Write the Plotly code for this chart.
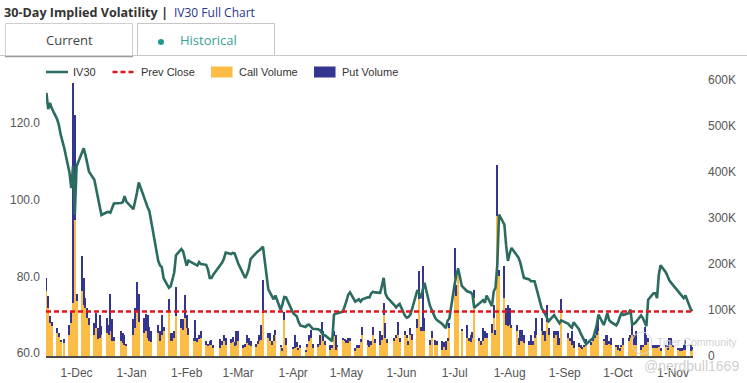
import plotly.graph_objects as go

# ---------------- data ----------------
month_days = [
    ("2023-11", [14, 15, 16, 17, 20, 21, 22, 24, 27, 28, 29, 30]),
    ("2023-12", [1, 4, 5, 6, 7, 8, 11, 12, 13, 14, 15, 18, 19, 20, 21, 22, 26, 27, 28, 29]),
    ("2024-01", [2, 3, 4, 5, 8, 9, 10, 11, 12, 16, 17, 18, 19, 22, 23, 24, 25, 26, 29, 30, 31]),
    ("2024-02", [1, 2, 5, 6, 7, 8, 9, 12, 13, 14, 15, 16, 20, 21, 22, 23, 26, 27, 28, 29]),
    ("2024-03", [1, 4, 5, 6, 7, 8, 11, 12, 13, 14, 15, 18, 19, 20, 21, 22, 25, 26, 27, 28]),
    ("2024-04", [1, 2, 3, 4, 5, 8, 9, 10, 11, 12, 15, 16, 17, 18, 19, 22, 23, 24, 25, 26, 29, 30]),
    ("2024-05", [1, 2, 3, 6, 7, 8, 9, 10, 13, 14, 15, 16, 17, 20, 21, 22, 23, 24, 28, 29, 30, 31]),
    ("2024-06", [3, 4, 5, 6, 7, 10, 11, 12, 13, 14, 17, 18, 20, 21, 24, 25, 26, 27, 28]),
    ("2024-07", [1, 2, 3, 5, 8, 9, 10, 11, 12, 15, 16, 17, 18, 19, 22, 23, 24, 25, 26, 29, 30, 31]),
    ("2024-08", [1, 2, 5, 6, 7, 8, 9, 12, 13, 14, 15, 16, 19, 20, 21, 22, 23, 26, 27, 28, 29, 30]),
    ("2024-09", [3, 4, 5, 6, 9, 10, 11, 12, 13, 16, 17, 18, 19, 20, 23, 24, 25, 26, 27, 30]),
    ("2024-10", [1, 2, 3, 4, 7, 8, 9, 10, 11, 14, 15, 16, 17, 18, 21, 22, 23, 24, 25, 28, 29, 30, 31]),
    ("2024-11", [1, 4, 5, 6, 7, 8, 11, 12]),
]
trade_dates = [f"{m}-{d:02d}" for m, ds in month_days for d in ds]

iv30 = [
    127.8, 123.6, 125.2, 123.8, 121.0, 119.5, 117.0, 113.5, 107.0, 103.0, 108.8, 96.1,
    108.7, 112.0, 113.4, 111.6, 109.4, 107.3, 105.2, 103.0, 100.2, 98.2, 96.0, 96.7, 96.8, 96.6, 97.8, 99.0, 99.1, 99.3, 100.9, 99.5,
    97.5, 99.5, 101.8, 104.5, 100.4, 99.0, 98.0, 97.0, 94.5, 84.0, 82.8, 82.4, 79.5, 77.0, 77.4, 79.5, 81.0, 85.5, 87.1, 86.5, 84.5,
    82.8, 84.1, 83.4, 83.1, 82.8, 83.7, 83.2, 83.0, 81.8, 79.6, 79.6, 80.4, 82.8, 83.6, 84.6, 86.2, 85.8, 86.1, 86.0, 84.7,
    83.4, 80.5, 79.6, 80.6, 82.0, 84.5, 86.2, 86.5, 86.8, 87.2, 87.7, 76.6, 75.6, 74.8, 74.0, 75.0, 71.2, 72.8, 74.6, 74.5,
    70.4, 70.0, 69.6, 68.2, 67.2, 66.8, 67.3, 67.4, 66.8, 66.3, 66.2, 66.0, 65.3, 64.8, 64.6, 63.5, 63.1, 70.0, 70.3, 70.4, 70.8, 72.0,
    73.5, 75.2, 75.8, 73.4, 73.6, 74.0, 73.4, 74.0, 74.5, 74.5, 75.6, 76.0, 75.8, 75.7, 77.5, 79.6, 75.5, 74.5, 72.5, 71.9, 72.4, 72.8,
    69.7, 69.2, 69.4, 70.0, 71.5, 76.4, 75.5, 74.3, 76.5, 78.3, 72.4, 71.2, 69.2, 68.6, 67.6, 67.0, 66.5, 68.4, 69.0,
    78.0, 80.6, 82.0, 77.5, 76.1, 76.0, 75.8, 75.3, 71.8, 73.0, 73.5, 73.8, 73.1, 75.0, 72.2, 76.1, 77.0, 83.0, 96.1, 93.5, 88.0, 84.0,
    86.0, 87.4, 85.5, 84.8, 83.5, 81.5, 79.6, 79.2, 78.7, 78.7, 78.7, 77.0, 71.7, 71.0, 70.2, 69.2, 68.3, 69.9, 69.3, 68.6, 67.8, 68.5,
    67.6, 67.0, 66.6, 68.0, 66.2, 65.1, 64.2, 63.2, 62.3, 63.5, 63.9, 65.5, 67.2, 70.0, 67.3, 68.8, 70.4, 68.6, 68.1, 67.2,
    68.0, 69.3, 70.4, 69.9, 70.4, 71.3, 67.4, 67.6, 68.0, 69.8, 69.1, 68.0, 67.0, 73.9, 75.6, 75.6, 74.3, 80.4, 82.9, 81.0, 79.8, 78.9, 78.3,
    77.7, 76.0, 75.2, 74.8, 74.3, 75.0, 71.4, 70.9,
]

# option volumes, thousands of contracts
call_volume_k = [
    141, 104, 72, 65, 50, 41, 32, 28, 46, 72, 115, 296,
    120, 141, 111, 104, 83, 68, 46, 61, 36, 39, 45, 50, 46, 54, 32, 32, 32, 28, 25, 21,
    46, 61, 97, 75, 50, 55, 39, 32, 30, 50, 32, 46, 54, 97, 32, 32, 40, 86, 60, 57, 83,
    61, 46, 32, 32, 30, 36, 39, 25, 22, 25, 25, 17, 17, 25, 32, 25, 28, 30, 22, 25,
    32, 17, 20, 28, 25, 22, 20, 28, 32, 35, 93, 40, 32, 25, 32, 46, 20, 10, 78, 25,
    15, 17, 20, 14, 17, 10, 20, 32, 39, 18, 20, 25, 50, 32, 25, 14, 17, 43, 14, 20, 35, 32,
    30, 28, 32, 10, 17, 17, 30, 46, 25, 20, 25, 46, 28, 25, 35, 90, 40, 28, 32, 39, 46, 30,
    46, 39, 25, 46, 35, 60, 124, 54, 55, 54, 25, 39, 25, 25, 14, 20, 14, 32, 60,
    169, 130, 184, 54, 39, 32, 30, 40, 126, 32, 25, 32, 39, 40, 50, 83, 46, 304, 173, 126, 68, 66,
    68, 60, 54, 25, 32, 32, 28, 25, 25, 25, 39, 46, 54, 46, 32, 75, 46, 39, 46, 25, 25, 93,
    40, 32, 25, 17, 20, 17, 17, 20, 28, 25, 32, 39, 46, 54, 32, 25, 25, 28, 25, 20,
    14, 10, 20, 25, 32, 39, 46, 25, 25, 14, 20, 25, 25, 30, 17, 17, 17, 20, 10, 20, 14, 25, 25,
    20, 14, 10, 10, 14, 14, 10, 14,
]
put_volume_k = [
    29, 26, 14, 10, 11, 9, 3, 9, 22, 25, 478, 229,
    15, 76, 59, 22, 21, 15, 26, 33, 25, 51, 20, 33, 22, 81, 48, 10, 22, 22, 21, 5,
    34, 43, 63, 60, 33, 37, 51, 32, 24, 18, 22, 44, 10, 26, 18, 18, 15, 63, 20, 23, 50,
    29, 15, 7, 46, 10, 10, 15, 7, 5, 7, 10, 8, 20, 8, 14, 14, 8, 12, 8, 29,
    22, 8, 6, 18, 14, 10, 6, 4, 14, 33, 72, 10, 18, 8, 14, 11, 5, 7, 17, 14,
    5, 29, 10, 3, 8, 4, 6, 13, 18, 8, 7, 21, 24, 22, 8, 11, 8, 11, 32, 5, 3, 5,
    4, 11, 7, 7, 8, 8, 8, 18, 10, 12, 7, 16, 8, 29, 10, 25, 32, 10, 7, 7, 29, 10,
    8, 7, 8, 15, 12, 20, 60, 10, 140, 29, 10, 15, 10, 7, 18, 10, 18, 7, 12,
    66, 25, 7, 5, 29, 7, 16, 12, 18, 8, 8, 29, 15, 10, 20, 28, 10, 112, 15, 69, 36, 44,
    36, 8, 14, 14, 25, 25, 18, 7, 21, 7, 15, 37, 29, 8, 22, 36, 15, 15, 8, 29, 14, 31,
    10, 8, 29, 15, 8, 8, 3, 5, 8, 6, 10, 7, 15, 36, 5, 21, 21, 4, 14, 5,
    11, 7, 5, 14, 7, 7, 29, 21, 29, 11, 5, 39, 21, 10, 8, 8, 7, 5, 7, 5, 11, 14, 14,
    5, 3, 7, 7, 11, 21, 15, 5,
]
assert len(trade_dates) == len(iv30) == len(call_volume_k) == len(put_volume_k)

prev_close = 70.8
iv_ticks = [60, 80, 100, 120]
vol_ticks = [0, 100000, 200000, 300000, 400000, 500000, 600000]
vol_tick_text = ["0", "100K", "200K", "300K", "400K", "500K", "600K"]

call_volume = [v * 1000 for v in call_volume_k]
put_volume = [v * 1000 for v in put_volume_k]

# ---------------- colours ----------------
C_IV = "#2b6b60"
C_PREV = "#e3161b"
C_CALL = "#fbbd45"
C_PUT = "#33358f"
AXIS_FONT = dict(family="Liberation Sans, Arial, sans-serif", size=12, color="#555555")

W, H = 747, 383
L, R, T, B = 46, 54, 80, 27
PW, PH = W - L - R, H - T - B


def px(x):
    return (x - L) / PW


def py(y):
    return (H - B - y) / PH


BAR_W = 0.62 * 86400000
fig = go.Figure()
fig.add_trace(go.Bar(x=trade_dates, y=call_volume, name="Call Volume", yaxis="y",
                     marker=dict(color=C_CALL, line=dict(width=0)), width=BAR_W))
fig.add_trace(go.Bar(x=trade_dates, y=put_volume, name="Put Volume", yaxis="y",
                     marker=dict(color=C_PUT, line=dict(width=0)), width=BAR_W))
fig.add_trace(go.Scatter(x=trade_dates, y=iv30, name="IV30", yaxis="y2", mode="lines",
                         line=dict(color=C_IV, width=2.6)))

shapes = []
annotations = []

# prev close dashed line
shapes.append(dict(type="line", xref="paper", x0=0, x1=1, yref="y2", y0=prev_close, y1=prev_close,
                   line=dict(color=C_PREV, width=2.5, dash="5px,3px"), layer="above"))

# ---- header: title + tabs ----
annotations.append(dict(text="<b>30-Day Implied Volatility</b>", x=px(2), y=py(12.5), xref="paper", yref="paper",
                        xanchor="left", yanchor="middle", showarrow=False,
                        font=dict(family="Open Sans", size=12.6, color="#333333")))
annotations.append(dict(text="<b>|</b>", x=px(164), y=py(12.5), xref="paper", yref="paper",
                        xanchor="center", yanchor="middle", showarrow=False,
                        font=dict(family="Open Sans", size=13, color="#333333")))
annotations.append(dict(text="IV30 Full Chart", x=px(171.5), y=py(12.5), xref="paper", yref="paper",
                        xanchor="left", yanchor="middle", showarrow=False,
                        font=dict(family="Open Sans", size=12, color="#27338f")))

# rule under tabs
shapes.append(dict(type="line", xref="paper", yref="paper", x0=px(0), x1=px(747), y0=py(55.5), y1=py(55.5),
                   line=dict(color="#c9c9c9", width=1)))
# tab boxes
shapes.append(dict(type="rect", xref="paper", yref="paper", x0=px(5.5), x1=px(132.5), y0=py(56), y1=py(23.5),
                   line=dict(color="#cfcfcf", width=1), fillcolor="white"))
shapes.append(dict(type="line", xref="paper", yref="paper", x0=px(5), x1=px(133), y0=py(56.5), y1=py(56.5),
                   line=dict(color="#9a9a9a", width=1.5)))
shapes.append(dict(type="rect", xref="paper", yref="paper", x0=px(137.5), x1=px(274.5), y0=py(55.5), y1=py(23.5),
                   line=dict(color="#c6c6c6", width=1), fillcolor="white"))
annotations.append(dict(text="Current", x=px(69), y=py(40.5), xref="paper", yref="paper",
                        xanchor="center", yanchor="middle", showarrow=False,
                        font=dict(family="Open Sans", size=13, color="#444444")))
shapes.append(dict(type="circle", xref="paper", yref="paper", x0=px(158), x1=px(164), y0=py(45), y1=py(39),
                   line=dict(width=0), fillcolor="#1f9a8c"))
annotations.append(dict(text="Historical", x=px(178), y=py(40.5), xref="paper", yref="paper",
                        xanchor="left", yanchor="middle", showarrow=False,
                        font=dict(family="Open Sans", size=13, color="#3a9f93")))

# ---- legend (manual) ----
LEG_Y = 72
LEG_FONT = dict(family="Liberation Sans, Arial, sans-serif", size=11, color="#333333")
shapes.append(dict(type="line", xref="paper", yref="paper", x0=px(46), x1=px(68), y0=py(LEG_Y), y1=py(LEG_Y),
                   line=dict(color=C_IV, width=2.5)))
annotations.append(dict(text="IV30", x=px(71), y=py(LEG_Y), xref="paper", yref="paper", xanchor="left",
                        yanchor="middle", showarrow=False, font=LEG_FONT))
shapes.append(dict(type="line", xref="paper", yref="paper", x0=px(112.5), x1=px(134), y0=py(LEG_Y), y1=py(LEG_Y),
                   line=dict(color=C_PREV, width=2.5, dash="5px,3px")))
annotations.append(dict(text="Prev Close", x=px(138.5), y=py(LEG_Y), xref="paper", yref="paper", xanchor="left",
                        yanchor="middle", showarrow=False, font=LEG_FONT))
shapes.append(dict(type="rect", xref="paper", yref="paper", x0=px(211), x1=px(232.5), y0=py(77.5), y1=py(66.5),
                   line=dict(width=0), fillcolor=C_CALL))
annotations.append(dict(text="Call Volume", x=px(237), y=py(LEG_Y), xref="paper", yref="paper", xanchor="left",
                        yanchor="middle", showarrow=False, font=LEG_FONT))
shapes.append(dict(type="rect", xref="paper", yref="paper", x0=px(314), x1=px(335.5), y0=py(77.5), y1=py(66.5),
                   line=dict(width=0), fillcolor=C_PUT))
annotations.append(dict(text="Put Volume", x=px(340), y=py(LEG_Y), xref="paper", yref="paper", xanchor="left",
                        yanchor="middle", showarrow=False, font=LEG_FONT))

# ---- watermark ----
shapes.append(dict(type="circle", xref="paper", yref="paper", x0=px(632), x1=px(652), y0=py(354), y1=py(332),
                   line=dict(color="#d6d6d6", width=1), layer="above"))
annotations.append(dict(text="Tiger Community", x=px(655), y=py(342), xref="paper", yref="paper",
                        xanchor="left", yanchor="middle", showarrow=False,
                        font=dict(family="Liberation Sans, Arial", size=10.5, color="#d2d2d2")))
annotations.append(dict(text="@nerdbull1669", x=px(642), y=py(366), xref="paper", yref="paper",
                        xanchor="left", yanchor="middle", showarrow=False,
                        font=dict(family="Liberation Sans, Arial", size=14, color="#cfcfcf")))

fig.update_layout(
    template="none",
    width=W, height=H,
    margin=dict(l=L, r=R, t=T, b=B, pad=0, autoexpand=False),
    paper_bgcolor="white", plot_bgcolor="white",
    font=dict(family="Liberation Sans, Arial, sans-serif", size=12, color="#555555"),
    showlegend=False,
    barmode="stack", bargap=0,
    shapes=shapes, annotations=annotations,
    xaxis=dict(type="date", range=["2023-11-13 18:14", "2024-11-12 06:14"],
               tick0="2023-12-01", dtick="M1", tickformat="%-d-%b", automargin=False,
               showgrid=False, zeroline=False, showline=True, linecolor="#4a4a4a", linewidth=1.5,
               ticks="", tickfont=AXIS_FONT, ticklabelstandoff=5),
    yaxis=dict(range=[0, 600000], side="right", tickvals=vol_ticks, ticktext=vol_tick_text,
               automargin=False,
               showgrid=False, zeroline=False, showline=False, ticks="", tickfont=AXIS_FONT,
               ticklabelstandoff=14),
    yaxis2=dict(range=[59.22, 131.19], side="left", overlaying="y", tickvals=iv_ticks,
                ticktext=[f"{v:.1f}" for v in iv_ticks], automargin=False,
                showgrid=False, zeroline=False, showline=False, ticks="", tickfont=AXIS_FONT,
                ticklabelstandoff=5),
)

fig.write_html("out.html", config={"displayModeBar": False},
               post_script="document.body.style.margin='0';document.body.style.padding='0';"
                           "document.documentElement.style.overflow='hidden';")
